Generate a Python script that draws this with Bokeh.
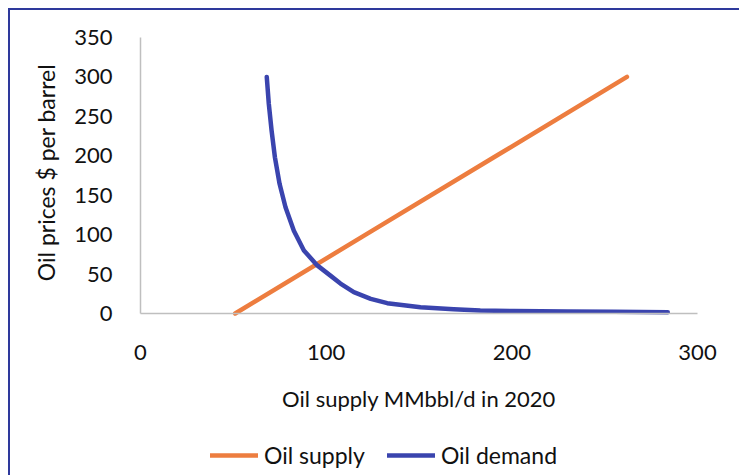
import math
from bokeh.plotting import figure
from bokeh.models import Range1d, FixedTicker, Legend, LegendItem, Label, InlineStyleSheet
from bokeh.embed import file_html
from bokeh.resources import INLINE

# Supply and demand curves: quantity (MMbbl/d) against price ($ per barrel)
supply_q = [51, 121.3, 191.7, 262]
supply_p = [0, 100, 200, 300]

demand_q = [68, 69.1, 70.6, 72.4, 74.9, 78.1, 82.6, 88, 95.2, 102.3, 107.7,
            114.9, 124, 132.9, 150.8, 168.7, 183, 201, 230, 255, 284]
demand_p = [300, 266, 232, 198, 164.5, 134.8, 105, 80, 61, 48, 38,
            27, 18.6, 13.1, 8, 5.5, 3.8, 3.2, 2.6, 2.2, 1.5]

x_ticks = [0, 100, 200, 300]
y_ticks = [0, 50, 100, 150, 200, 250, 300, 350]

x_title = "Oil supply MMbbl/d in 2020"
y_title = "Oil prices $ per barrel"
series_names = ["Oil supply", "Oil demand"]

ORANGE = "#ED7D3F"
BLUE = "#3A44AE"
INK = "#111111"
FONT = "Lato"
SIZE = "22px"

# Page geometry (pixels)
W, H = 739, 475
X0_PX, X1_PX = 140, 697      # horizontal pixels of quantity 0 and 300
Y0_PX, Y1_PX = 313, 37       # vertical pixels of price 0 and 350
X_MAX, Y_MAX = 300, 350

# The plotting frame fills the whole canvas; both axes are pinned at 0 and
# bounded to the data extent, so titles and legend can sit around them.
sx = (X1_PX - X0_PX) / X_MAX
sy = (Y0_PX - Y1_PX) / Y_MAX
x_range = Range1d(-X0_PX / sx, X_MAX + (W - X1_PX) / sx)
y_range = Range1d(-(H - Y0_PX) / sy, Y_MAX + Y1_PX / sy)

frame_css = InlineStyleSheet(css="""
:host::after {
  content: "";
  position: absolute;
  left: 8px; top: 8px; right: 0; bottom: 0;
  border-top: 2px solid #2e399c;
  border-left: 2px solid #2e399c;
  pointer-events: none;
}
""")

p = figure(width=W, height=H, output_backend="svg", toolbar_location=None,
           x_range=x_range, y_range=y_range,
           min_border=0, min_border_left=0, min_border_right=0,
           min_border_top=0, min_border_bottom=0,
           background_fill_color="white", border_fill_color="white")
p.stylesheets.append(frame_css)

p.outline_line_color = None
p.xgrid.grid_line_color = None
p.ygrid.grid_line_color = None

for ax in (p.xaxis[0], p.yaxis[0]):
    ax.fixed_location = 0
    ax.axis_line_color = "#bfbfbf"
    ax.axis_line_width = 1.5
    ax.major_tick_line_color = None
    ax.minor_tick_line_color = None
    ax.major_label_text_font = FONT
    ax.major_label_text_font_size = SIZE
    ax.major_label_text_color = INK

p.xaxis.bounds = (0, X_MAX)
p.yaxis.bounds = (0, Y_MAX)
p.xaxis.ticker = FixedTicker(ticks=x_ticks)
p.yaxis.ticker = FixedTicker(ticks=y_ticks)
p.xaxis.major_label_standoff = 25
p.yaxis.major_label_standoff = 22

# Axis titles
p.add_layout(Label(x=X_MAX / 2, y=-(398 - Y0_PX) / sy, text=x_title,
                   text_align="center", text_baseline="middle",
                   text_font=FONT, text_font_size=SIZE, text_color=INK))
p.add_layout(Label(x=(45 - X0_PX) / sx, y=(Y0_PX - 172) / sy, text=y_title,
                   angle=math.pi / 2, text_align="center", text_baseline="middle",
                   text_font=FONT, text_font_size="23px", text_color=INK))

r_supply = p.line(supply_q, supply_p, line_color=ORANGE, line_width=4.5, line_cap="round")
r_demand = p.line(demand_q, demand_p, line_color=BLUE, line_width=4.5, line_cap="round",
                  line_join="round")

legend = Legend(items=[LegendItem(label=series_names[0], renderers=[r_supply]),
                       LegendItem(label=series_names[1], renderers=[r_demand])],
                orientation="horizontal", location=(210, 6),
                glyph_width=48, glyph_height=20, label_standoff=6, spacing=22,
                padding=0, margin=0,
                label_text_font=FONT, label_text_font_size="23px",
                label_text_color=INK,
                border_line_color=None, background_fill_alpha=0)
p.add_layout(legend, "center")

open("out.html", "w").write(file_html(p, INLINE))
